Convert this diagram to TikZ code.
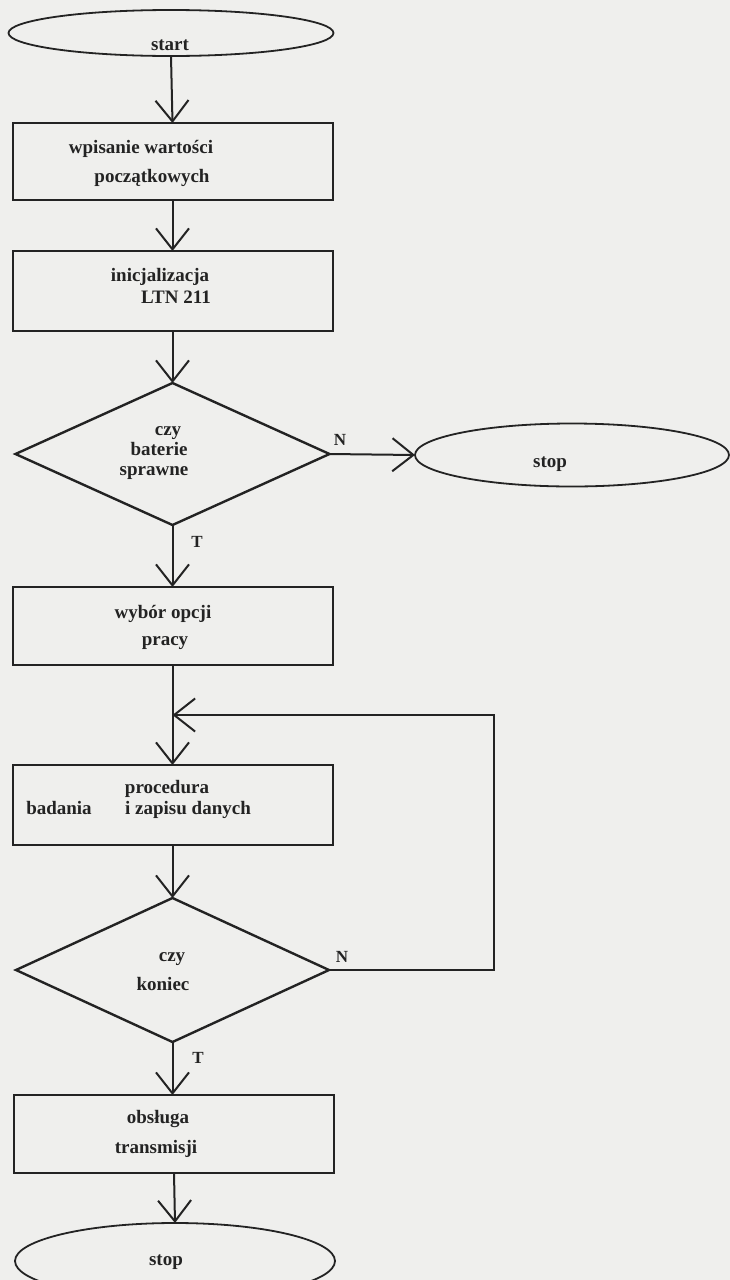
\documentclass[tikz,border=0pt]{standalone}
\usepackage{fontspec}
\setmainfont{Liberation Serif}
\usetikzlibrary{shapes.geometric,arrows.meta}
\definecolor{bg}{RGB}{239,239,237}
\definecolor{ink}{RGB}{35,35,35}
\begin{document}
\begin{tikzpicture}[x=1pt,y=-1pt,
  every node/.style={inner sep=0pt, outer sep=0pt},
  proc/.style={draw=ink, rectangle, line width=2pt, minimum width=320pt},
  term/.style={draw=ink, ellipse, line width=1.8pt},
  dec/.style={draw=ink, diamond, line width=2.4pt},
  txt/.style={anchor=base, text=ink, font=\bfseries\fontsize{19}{22}\selectfont},
  lbl/.style={anchor=base, text=ink, font=\bfseries\fontsize{17}{20}\selectfont},
  flow/.style={draw=ink, line width=2pt, -{Straight Barb[length=21pt,width=33pt,line width=2pt]}},
]
\fill[bg] (0,0) rectangle (730,1280);
\useasboundingbox (0,0) rectangle (730,1280);

% shapes
\node[term, minimum width=325pt, minimum height=46pt] (start) at (171,33) {};
\node[proc, minimum height=77pt] (b1) at (172.5,161.5) {};
\node[proc, minimum height=80pt] (b2) at (172.5,291) {};
\node[dec, minimum width=314pt, minimum height=142pt] (d1) at (172.5,454) {};
\node[term, minimum width=314pt, minimum height=63pt] (stopA) at (572,455) {};
\node[proc, minimum height=78pt] (b3) at (172.5,626) {};
\node[proc, minimum height=80pt] (b4) at (172.5,805) {};
\node[dec, minimum width=313pt, minimum height=144pt] (d2) at (172.5,970) {};
\node[proc, minimum height=78pt] (b5) at (174,1134) {};
\node[term, minimum width=320pt, minimum height=76pt] (stopB) at (175,1261) {};

% texts (anchored at baseline)
\node[txt] (tstart) at (170,50) {start};
\node[txt] (t11) at (141,153) {wpisanie wartości};
\node[txt] (t12) at (152,182) {początkowych};
\node[txt] (t21) at (160,281) {inicjalizacja};
\node[txt] (t22) at (176,303) {LTN 211};
\node[txt] (td11) at (168,435) {czy};
\node[txt] (td12) at (159,455) {baterie};
\node[txt] (td13) at (154,475) {sprawne};
\node[txt] (tstopA) at (550,467) {stop};
\node[txt] (t31) at (163,618) {wybór opcji};
\node[txt] (t32) at (165,645) {pracy};
\node[txt] (t41) at (167,793) {procedura};
\node[txt] (t42) at (59,814) {badania};
\node[txt] (t43) at (188,814) {i zapisu danych};
\node[txt] (td21) at (172,961) {czy};
\node[txt] (td22) at (163,990) {koniec};
\node[txt] (t51) at (158,1123) {obsługa};
\node[txt] (t52) at (156,1153) {transmisji};
\node[txt] (tstopB) at (166,1265) {stop};

% labels
\node[lbl] (nA) at (340,445) {N};
\node[lbl] (tA) at (197,547) {T};
\node[lbl] (nB) at (342,962) {N};
\node[lbl] (tB) at (198,1063) {T};

% connectors
\draw[flow] (start.south) -- (b1.north);
\draw[flow] (b1.south) -- (b2.north);
\draw[flow] (b2.south) -- (d1.north);
\draw[flow] (d1.east) -- (stopA.west);
\draw[flow] (d1.south) -- (b3.north);
\draw[flow] (b3.south) -- (b4.north);
\coordinate (j) at (172.5,715);
\draw[flow] (d2.east) -- ++(165,0) |- (j);
\draw[flow] (b4.south) -- (d2.north);
\draw[flow] (d2.south) -- (b5.north -| d2.south);
\draw[flow] (b5.south) -- (stopB.north);
\end{tikzpicture}
\end{document}
